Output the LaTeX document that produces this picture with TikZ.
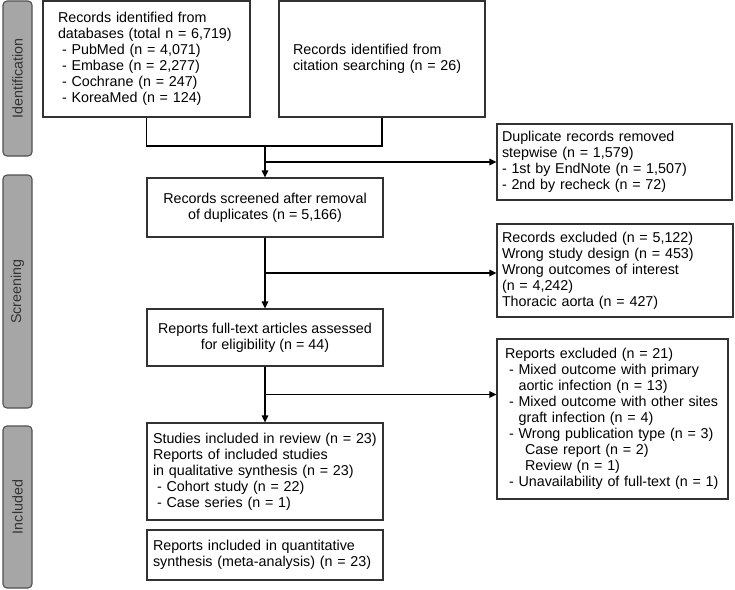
\documentclass[tikz,border=0pt]{standalone}
\usepackage{fontspec}
\setmainfont{Liberation Sans}
\usepackage{xcolor}
\usetikzlibrary{positioning, arrows.meta, calc}
\definecolor{phasegray}{RGB}{166,166,166}
\definecolor{phaseedge}{RGB}{80,80,80}
\definecolor{boxedge}{RGB}{50,50,50}
\newcommand{\dashitem}{\hspace*{0.28em}- }
\newcommand{\contind}{\hspace*{0.95em}}

\begin{document}
\begin{tikzpicture}[x=1pt, y=-1pt,
  box/.style={draw=boxedge, line width=1.2pt, inner ysep=0pt, font=\fontsize{14.3}{16}\selectfont},
  lbox/.style={box, align=left},
  cbox/.style={box, align=center, minimum width=236pt},
  phase/.style={draw=phaseedge, fill=phasegray, line width=1.1pt, rounded corners=4pt, rotate=90,
    minimum height=29pt, text=black!80, font=\fontsize{14.3}{16}\selectfont},
  arr/.style={-{Triangle[length=7pt, width=6.5pt]}, line width=1.2pt},
  link/.style={line width=1.2pt}]
  \useasboundingbox (0,0) rectangle (735,589);

  % phase bars
  \node[phase, minimum width=155pt] (ident) at (17.5,78.5) {Identification};
  \node[phase, minimum width=233pt] (scrn) at (17.5,291.5) {Screening};
  \node[phase, minimum width=162pt] (incl) at (17.5,507) {Included};

  % identification
  \node[lbox, text width=177pt, inner xsep=15pt, minimum height=116pt] (db) at (146.5,59)
    {Records identified from\\databases (total n = 6,719)\\\dashitem PubMed (n = 4,071)\\\dashitem Embase (n = 2,277)\\\dashitem Cochrane (n = 247)\\\dashitem KoreaMed (n = 124)};
  \node[lbox, text width=178pt, inner xsep=14pt, minimum height=116pt] (cit) at (382,59)
    {Records identified from\\citation searching (n = 26)};
  \node[lbox, text width=225pt, inner xsep=5pt, minimum height=76pt] (dup) at (614.5,162)
    {Duplicate records removed\\stepwise (n = 1,579)\\- 1st by EndNote (n = 1,507)\\- 2nd by recheck (n = 72)};

  % screening
  \node[cbox, minimum height=59pt] (scr) at (265,207.5)
    {Records screened after removal\\of duplicates (n = 5,166)};
  \node[lbox, text width=226pt, inner xsep=5pt, minimum height=93pt] (exc1) at (615,270.5)
    {Records excluded (n = 5,122)\\Wrong study design (n = 453)\\Wrong outcomes of interest\\(n = 4,242)\\Thoracic aorta (n = 427)};
  \node[cbox, minimum height=57pt] (ft) at (265,337.5)
    {Reports full-text articles assessed\\for eligibility (n = 44)};
  \node[lbox, text width=215pt, inner xsep=8pt, minimum height=160pt] (exc2) at (612.5,419)
    {Reports excluded (n = 21)\\\dashitem Mixed outcome with primary\\\contind aortic infection (n = 13)\\\dashitem Mixed outcome with other sites\\\contind graft infection (n = 4)\\\dashitem Wrong publication type (n = 3)\\\hspace*{1.4em}Case report (n = 2)\\\hspace*{1.4em}Review (n = 1)\\\dashitem Unavailability of full-text (n = 1)};

  % included
  \node[lbox, text width=224pt, inner xsep=6pt, minimum height=97pt] (stu) at (265,471.5)
    {Studies included in review (n = 23)\\Reports of included studies\\in qualitative synthesis (n = 23)\\\dashitem Cohort study (n = 22)\\\dashitem Case series (n = 1)};
  \node[lbox, text width=224pt, inner xsep=6pt, minimum height=50pt] (fin) at (265,555)
    {Reports included in quantitative\\synthesis (meta-analysis) (n = 23)};

  % connectors
  \coordinate (merge) at (265,146);
  \draw[link] (db.south) |- (merge) -| (cit.south);
  \draw[arr] (merge) -- (scr.north);
  \draw[arr] (merge |- dup.west) -- (dup.west);
  \draw[arr] (scr.south) -- (ft.north);
  \coordinate (split2) at ($(scr.south)!0.5!(ft.north)$);
  \draw[arr] (split2) -- (split2 -| exc1.west);
  \draw[arr] (ft.south) -- (stu.north);
  \coordinate (split3) at ($(ft.south)!0.5!(stu.north)$);
  \draw[arr] (split3) -- (split3 -| exc2.west);
\end{tikzpicture}
\end{document}
